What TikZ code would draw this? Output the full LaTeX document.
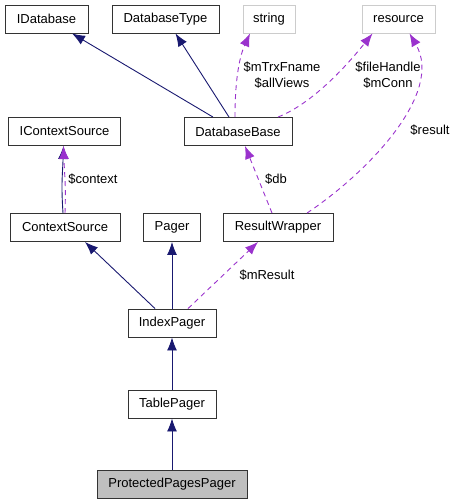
\documentclass[tikz,border=0pt]{standalone}
\usepackage{fontspec}
\setmainfont{Liberation Sans}
\usetikzlibrary{arrows.meta}
\definecolor{edgeblue}{HTML}{191970}
\definecolor{edgepurple}{HTML}{9A32CD}
\begin{document}
\begin{tikzpicture}[x=1pt, y=1pt, >={Latex[length=13pt,width=10pt]},
    box/.style={draw=black!80, line width=0.9pt, fill=white, inner sep=0pt,
        minimum height=28pt, font=\fontsize{13}{16}\selectfont},
    extbox/.style={box, draw=black!20},
    mainbox/.style={box, fill=black!25},
    inherit/.style={->, draw=edgeblue, line width=0.9pt},
    member/.style={->, draw=edgepurple, line width=0.9pt, dash pattern=on 5pt off 4pt},
    lbl/.style={inner sep=0pt, align=center, font=\fontsize{13}{16}\selectfont}]

    \useasboundingbox (0,0) rectangle (456,-504);

    % --- Top row: interfaces and external types ---
    \node[box, minimum width=83pt] (idb) at (46.5,-19) {IDatabase};
    \node[box, minimum width=107pt] (dbtype) at (165.5,-19) {DatabaseType};
    \node[extbox, minimum width=52pt] (str) at (269,-19) {string};
    \node[extbox, minimum width=73pt] (res) at (398.5,-19) {resource};

    % --- Second row ---
    \node[box, minimum width=112pt] (ictx) at (64.5,-131.5) {IContextSource};
    \node[box, minimum width=108pt] (dbbase) at (238,-131.5) {DatabaseBase};

    % --- Third row ---
    \node[box, minimum width=110pt] (ctx) at (65,-227.5) {ContextSource};
    \node[box, minimum width=57pt] (pager) at (172,-227.5) {Pager};
    \node[box, minimum width=110pt] (rw) at (278,-227.5) {ResultWrapper};

    % --- The pager chain, stacked vertically ---
    \node[box, minimum width=88pt] (ipager) at (172,-323) {IndexPager};
    \node[box, minimum width=88pt] (tpager) at (172,-404) {TablePager};
    \node[mainbox, minimum width=150pt] (ppager) at (172,-484) {ProtectedPagesPager};

    % --- Inheritance (solid, dark blue) ---
    \draw[inherit] ([xshift=-25pt]dbbase.north) -- ([xshift=25.5pt]idb.south);
    \draw[inherit] ([xshift=-9pt]dbbase.north) -- ([xshift=10pt]dbtype.south);
    \draw[inherit] ([xshift=-2pt]ctx.north) .. controls +(-2,30) and +(-1,-30) .. ([xshift=-1pt]ictx.south);
    \draw[inherit] ([xshift=-17pt]ipager.north) -- ([xshift=20pt]ctx.south);
    \draw[inherit] (ipager.north) -- (pager.south);
    \draw[inherit] (tpager.north) -- (ipager.south);
    \draw[inherit] (ppager.north) -- (tpager.south);

    % --- Members (dashed, purple) ---
    \draw[member] ([xshift=-3pt]dbbase.north) .. controls +(0,40) and +(-10,-22) .. ([xshift=-19pt]str.south);
    \draw[member] ([xshift=40pt]dbbase.north) .. controls +(38,15) and +(-20,-25) .. ([xshift=-26pt]res.south);
    \draw[member] ([xshift=29pt]rw.north) .. controls +(60,40) and +(35,-60) .. ([xshift=11pt]res.south);
    \draw[member] ([xshift=-6pt]rw.north) -- ([xshift=7pt]dbbase.south);
    \draw[member] ([xshift=0pt]ctx.north) .. controls +(1,30) and +(1,-30) .. ([xshift=-1pt]ictx.south);
    \draw[member] ([xshift=16pt]ipager.north) -- ([xshift=-20pt]rw.south);

    % Labels of the member connections
    \node[lbl] (lstr) at (282,-75) {\$mTrxFname\\\$allViews};
    \node[lbl] (lres) at (388,-75) {\$fileHandle\\\$mConn};
    \node[lbl] (lresult) at (430,-130) {\$result};
    \node[lbl] (ldb) at (276,-179) {\$db};
    \node[lbl] (lctx) at (93,-179) {\$context};
    \node[lbl] (lmres) at (267,-275) {\$mResult};
\end{tikzpicture}
\end{document}
